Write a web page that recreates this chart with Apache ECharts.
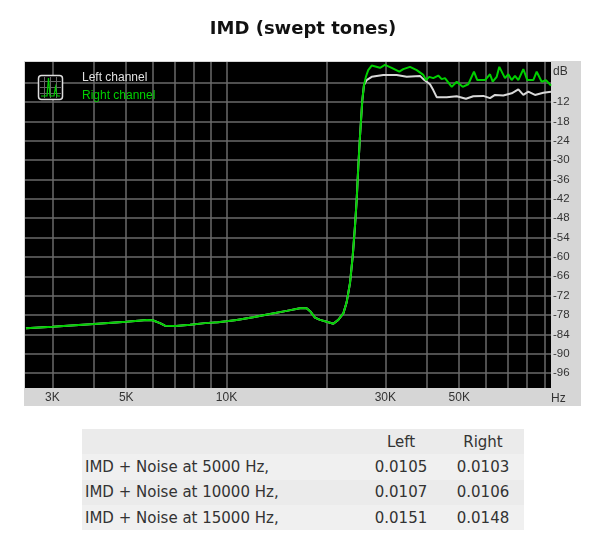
<!DOCTYPE html>
<html>
<head>
<meta charset="utf-8">
<title>IMD (swept tones)</title>
<script src="https://cdn.jsdelivr.net/npm/echarts@6/dist/echarts.min.js"></script>
<style>
    html, body { margin: 0; padding: 0; background: #fff; }
    #main { position: absolute; left: 0; top: 0; width: 600px; height: 559px; }
    #stats { position: absolute; left: 82px; top: 429px; width: 442px; border-collapse: collapse; table-layout: fixed;
             font: 15px "DejaVu Sans", sans-serif; color: #333; }
    #stats td { padding: 0 3px; height: 25.33px; }
    #stats tr:nth-child(odd) { background: #ebebeb; }
    #stats tr:nth-child(even) { background: #f0f0f0; }
    #stats td.num { text-align: center; width: 76px; }
</style>
</head>
<body>
<div id="main"></div>
<table id="stats"></table>
<script>
// Hz / dB
var commonFreq = [2500, 3000, 4000, 5000, 5770, 6000, 6316, 6535, 7050, 7770, 8620, 9430, 10000, 10730, 12010, 13510, 15160, 16620, 17410, 17900, 18440, 19090, 20000, 20930, 21660, 22430, 22960, 23490, 23930, 24310, 24600, 24880, 25170, 25580, 25880];
var commonDb = [-82.1, -81.6, -80.8, -80.1, -79.5, -79.6, -80.5, -81.3, -81.4, -81.0, -80.5, -80.2, -79.9, -79.5, -78.7, -77.7, -76.7, -75.9, -75.9, -77.0, -78.8, -79.5, -80.1, -80.7, -79.5, -77.5, -74.0, -68.1, -59.9, -50.6, -42.4, -32.0, -22.7, -11.4, -6.7];

var rightFreq = [26240, 26650, 27290, 28900, 29920, 31340, 33030, 33960, 35570, 37260, 39000, 39730, 40640, 41780, 43250, 44280, 45300, 47470, 49130, 51210, 53220, 55360, 56650, 59750, 61850, 63010, 64790, 65960, 68600, 70190, 71850, 73510, 75230, 77880, 80060, 83440, 85420, 88420, 91100, 94300];
var rightDb = [-4.1, -2.1, -0.7, -1.4, -0.5, -1.4, -2.6, -1.8, -1.1, -2.1, -3.6, -5.2, -4.2, -4.6, -3.8, -4.9, -4.6, -7.3, -5.7, -7.3, -6.5, -2.6, -5.2, -5.2, -3.4, -5.7, -4.2, -1.1, -4.6, -3.4, -5.2, -3.9, -5.2, -1.8, -5.2, -5.2, -2.6, -5.7, -5.2, -6.9];

var leftFreq = [26360, 27290, 29570, 32440, 34770, 38120, 39000, 40840, 41780, 42780, 45840, 49130, 52380, 55090, 59050, 61850, 64030, 67800, 71850, 75230, 77880, 80610, 84410, 89420, 94300];
var leftDb = [-5.2, -4.2, -3.6, -3.6, -4.2, -3.9, -4.9, -6.5, -8.3, -10.5, -10.5, -10.2, -11.0, -10.2, -10.1, -10.8, -9.8, -10.0, -9.3, -8.1, -9.8, -8.8, -9.8, -9.1, -8.8];

var xGrid = [3000, 4000, 5000, 6000, 7000, 8000, 9000, 10000, 20000, 30000, 40000, 50000, 60000, 70000, 80000, 90000];
var xLabels = [3000, 5000, 10000, 30000, 50000];
var yGrid = [-6, -12, -18, -24, -30, -36, -42, -48, -54, -60, -66, -72, -78, -84, -90, -96];
var yLabels = [-12, -18, -24, -30, -36, -42, -48, -54, -60, -66, -72, -78, -84, -90, -96];

var tableHead = ['', 'Left', 'Right'];
var tableRows = ['IMD + Noise at 5000 Hz,', 'IMD + Noise at 10000 Hz,', 'IMD + Noise at 15000 Hz,'];
var tableLeft = ['0.0105', '0.0107', '0.0151'];
var tableRight = ['0.0103', '0.0106', '0.0148'];

function pairs(fa, da, fb, db) {
    return fa.concat(fb).map(function (f, i) { return [f, da.concat(db)[i]]; });
}

var labelFont = '"Liberation Sans", sans-serif';
var myChart = echarts.init(document.getElementById('main'));
var option = {
    animation: false,
    backgroundColor: 'transparent',
    title: {
        text: 'IMD (swept tones)',
        left: 298, top: 15, textAlign: 'center',
        textStyle: { fontFamily: '"DejaVu Sans", sans-serif', fontSize: 18, fontWeight: 'bold', color: '#111' }
    },
    legend: {
        left: 72, top: 67, orient: 'vertical', itemGap: 6, itemWidth: 0, itemHeight: 0, icon: 'none',
        selectedMode: false,
        textStyle: { color: 'inherit', fontFamily: labelFont, fontSize: 12 },
        data: ['Left channel', 'Right channel']
    },
    grid: { left: 25, top: 62, width: 526, height: 326, backgroundColor: '#000', show: true, borderWidth: 0 },
    xAxis: {
        type: 'log', min: 2483, max: 94300, position: 'bottom',
        name: 'Hz', nameLocation: 'end', nameGap: 0,
        nameTextStyle: { color: '#333', fontFamily: labelFont, fontSize: 12, align: 'left', verticalAlign: 'top', padding: [5, 0, 0, 0] },
        axisLine: { show: false, onZero: false },
        axisTick: { show: false, customValues: xGrid },
        minorTick: { show: false },
        splitLine: { show: true, lineStyle: { color: '#6a6a6a', width: 1.5 } },
        axisLabel: {
            customValues: xLabels, margin: 4, color: '#333', fontFamily: labelFont, fontSize: 12,
            formatter: function (v) { return Math.round(v / 1000) + 'K'; }
        }
    },
    yAxis: {
        type: 'value', min: -100.6, max: 0.4, position: 'right',
        name: 'dB', nameLocation: 'end', nameGap: 0,
        nameTextStyle: { color: '#333', fontFamily: labelFont, fontSize: 12, align: 'left', padding: [0, 0, -16, 2] },
        axisLine: { show: false },
        axisTick: { show: false, customValues: yGrid },
        splitLine: { show: true, lineStyle: { color: '#6a6a6a', width: 1.5 } },
        axisLabel: { customValues: yLabels, margin: 2, color: '#333', fontFamily: labelFont, fontSize: 11.5 }
    },
    graphic: [
        // grey panel behind the plot and the axis labels
        { type: 'rect', z: -10, shape: { x: 24, y: 61, width: 557, height: 345 }, style: { fill: '#d6d6d6' } },
        // small scope icon next to the legend
        { type: 'rect', z: 20, shape: { x: 38.5, y: 75.5, width: 24, height: 24, r: 3 }, style: { fill: '#000', stroke: '#ddd', lineWidth: 1.5 } },
        { type: 'polyline', z: 21, shape: { points: [[44.5, 77], [44.5, 98]] }, style: { stroke: '#666', lineWidth: 1 } },
        { type: 'polyline', z: 21, shape: { points: [[50.5, 77], [50.5, 98]] }, style: { stroke: '#666', lineWidth: 1 } },
        { type: 'polyline', z: 21, shape: { points: [[56.5, 77], [56.5, 98]] }, style: { stroke: '#666', lineWidth: 1 } },
        { type: 'polyline', z: 21, shape: { points: [[40, 81.5], [61, 81.5]] }, style: { stroke: '#666', lineWidth: 1 } },
        { type: 'polyline', z: 21, shape: { points: [[40, 87.5], [61, 87.5]] }, style: { stroke: '#666', lineWidth: 1 } },
        { type: 'polyline', z: 21, shape: { points: [[40, 93.5], [61, 93.5]] }, style: { stroke: '#666', lineWidth: 1 } },
        { type: 'polyline', z: 22, shape: { points: [[41, 96], [47, 96], [48.5, 78], [50, 96], [54, 96], [55.5, 87], [57, 96], [60, 96]] }, style: { fill: 'none', stroke: '#0c0', lineWidth: 1.2 } }
    ],
    series: [
        { name: 'Left channel', type: 'line', showSymbol: false, z: 5, lineStyle: { width: 2, color: '#d8d8d8' }, itemStyle: { color: '#e0e0e0' }, data: pairs(commonFreq, commonDb, leftFreq, leftDb) },
        { name: 'Right channel', type: 'line', showSymbol: false, z: 6, lineStyle: { width: 2, color: '#00d000' }, itemStyle: { color: '#00d000' }, data: pairs(commonFreq, commonDb, rightFreq, rightDb) }
    ]
};
myChart.setOption(option);

// 表格
var html = '<tr><td></td><td class="num">' + tableHead[1] + '</td><td class="num">' + tableHead[2] + '</td></tr>';
for (var i = 0; i < tableRows.length; i++) {
    html += '<tr><td>' + tableRows[i] + '</td><td class="num">' + tableLeft[i] + '</td><td class="num">' + tableRight[i] + '</td></tr>';
}
document.getElementById('stats').innerHTML = html;
</script>
</body>
</html>
